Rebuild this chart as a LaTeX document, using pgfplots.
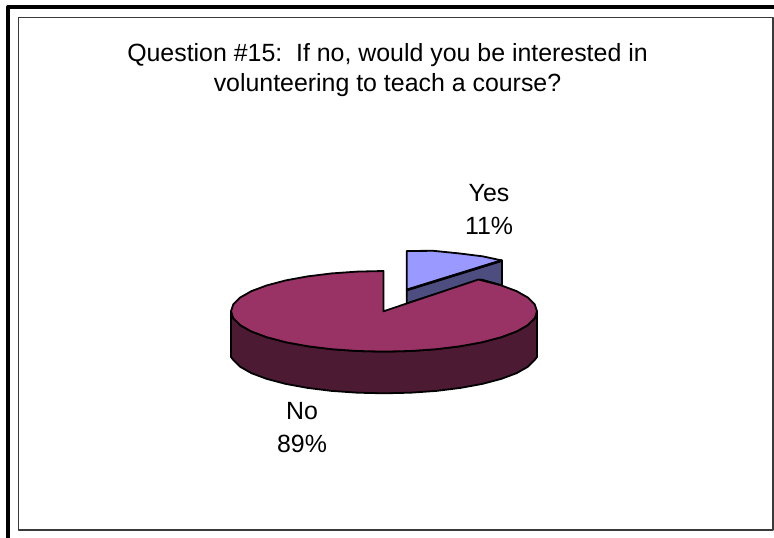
\documentclass[border=0pt]{standalone}
\usepackage{fontspec}
\setmainfont{Liberation Sans}
\usepackage{pgfplots}
\pgfplotsset{compat=1.18}
\definecolor{noTop}{HTML}{993366}
\definecolor{noSide}{HTML}{4D1A33}
\definecolor{yesTop}{HTML}{9999FF}
\definecolor{yesSide}{HTML}{4D4D80}
\definecolor{frameGray}{HTML}{3A3A3A}
\begin{document}
\begin{tikzpicture}
\begin{axis}[
  scale only axis, width=774pt, height=538pt,
  xmin=0, xmax=774, ymin=0, ymax=538, y dir=reverse,
  axis lines=none, clip=true,
  every axis plot/.append style={line join=round},
]
\addplot[draw=none, forget plot] coordinates {(0,0) (774,538)};
% outer and inner frames
\addplot[draw=black, line width=4pt] coordinates {(8,538) (8,7) (774,7)};
\addplot[draw=frameGray, line width=1.6pt] coordinates {(18.5,17.5) (773,17.5) (773,530) (18.5,530)} --cycle;
% Yes slice: cut face, then top face
\addplot[fill=yesSide, draw=black, line width=1.8pt] coordinates {
 (406.7,290) (502,260.5) (502,285.4) (481.5,279.6) (406.7,303.5)} --cycle;
\addplot[fill=yesTop, draw=black, line width=1.8pt] coordinates {
 (406.7,290) (406.7,251) (433.3,250.8) (459,253.4) (483,256.4) (502,260.5)} --cycle;
\addplot[draw=black, line width=2.6pt] coordinates {(406.7,290) (502,260.5)};
% No slice: side wall, then top face
\addplot[fill=noSide, draw=black, line width=1.8pt] coordinates {
 (231,311.3) (233.3,318.3) (240.2,325.1) (251.5,331.5) (266.8,337.2) (285.7,342.2)
 (307.5,346.2) (331.7,349.2) (357.4,351) (384,351.6) (410.6,351) (436.3,349.2)
 (460.5,346.2) (482.3,342.2) (501.2,337.2) (516.5,331.5) (527.8,325.1) (534.7,318.3) (537,311.3)
 (537,357) (534.7,360) (527.8,366.8) (516.5,373.2) (501.2,378.9) (482.3,383.9) (460.5,387.9)
 (436.3,390.9) (410.6,392.7) (384,393.3) (357.4,392.7) (331.7,390.9) (307.5,387.9)
 (285.7,383.9) (266.8,378.9) (251.5,373.2) (240.2,366.8) (233.3,360) (231,357)} --cycle;
\addplot[fill=noTop, draw=black, line width=1.8pt] coordinates {
 (383.5,311.3) (383.5,271) (357.4,271.6) (331.7,273.4) (307.5,276.4) (285.7,280.4) (266.8,285.4)
 (251.5,291.1) (240.2,297.5) (233.3,304.3) (231,311.3) (233.3,318.3) (240.2,325.1) (251.5,331.5)
 (266.8,337.2) (285.7,342.2) (307.5,346.2) (331.7,349.2) (357.4,351) (384,351.6) (410.6,351)
 (436.3,349.2) (460.5,346.2) (482.3,342.2) (501.2,337.2) (516.5,331.5) (527.8,325.1) (534.7,318.3)
 (537,311.3) (534.7,304.3) (527.8,297.5) (516.5,291.1) (501.2,285.4) (478.5,279.5)} --cycle;
% texts
\node[align=center, font=\fontsize{24.9}{30}\selectfont] at (axis cs:387.5,70) {Question \#15:\ \ If no, would you be interested in\\volunteering to teach a course?};
\node[align=center, font=\fontsize{24.9}{33}\selectfont] at (axis cs:489,209.5) {Yes\\11\%};
\node[align=center, font=\fontsize{24.9}{33}\selectfont] at (axis cs:302,428) {No\\89\%};
\end{axis}
\end{tikzpicture}
\end{document}
